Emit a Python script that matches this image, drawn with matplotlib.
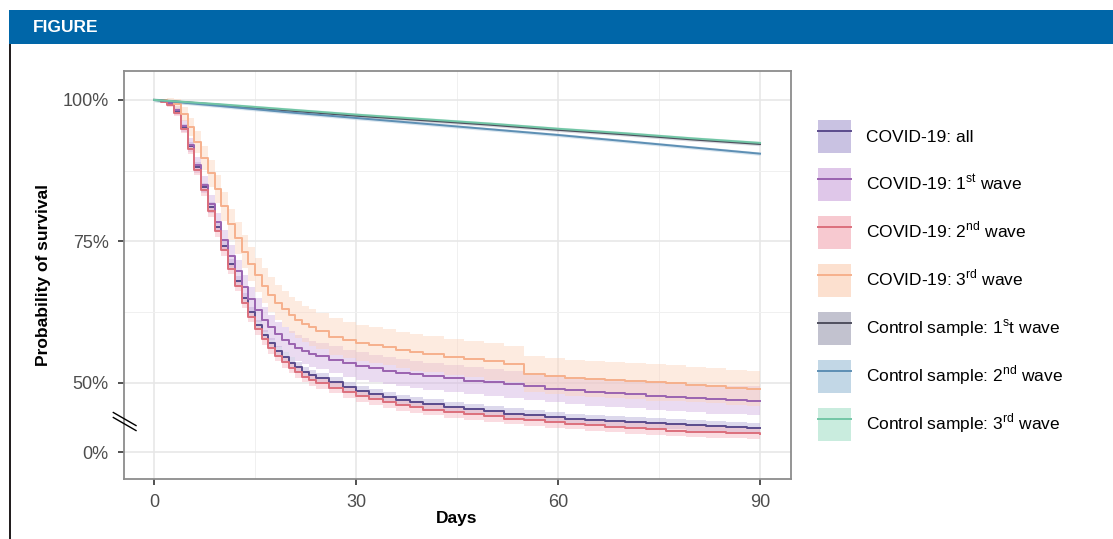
import matplotlib
matplotlib.use("Agg")
import matplotlib.pyplot as plt
from matplotlib.patches import Patch, Rectangle
from matplotlib.lines import Line2D

plt.rcParams['font.family'] = ['Liberation Sans', 'DejaVu Sans']
plt.rcParams['mathtext.fontset'] = 'custom'
plt.rcParams['mathtext.rm'] = 'Liberation Sans'

# Kaplan-Meier estimates (survival, %)
days = [0, 1, 2, 3, 4, 5, 6, 7, 8, 9, 10, 11, 12, 13, 14, 15, 16, 17, 18, 19, 20, 21, 22, 23, 24,
        26, 28, 30, 32, 34, 36, 38, 40,
        43, 46, 49, 52, 55, 58, 61, 64, 67, 70, 73, 76, 79, 82, 85, 88, 90]

covid_all = [100, 99.8, 99.3, 98.0, 95.2, 91.8, 88.2, 84.6, 81.0, 77.6, 74.2, 71.0, 68.0, 65.0,
             62.5, 60.3, 58.5, 57.0, 55.7, 54.6, 53.6, 52.8, 52.0, 51.4, 50.9,
             50.1, 49.3, 48.6, 48.0, 47.5, 47.0, 46.6, 46.2,
             45.8, 45.4, 45.0, 44.6, 44.3, 44.0, 43.7, 43.5, 43.3, 43.1, 42.9, 42.7, 42.5, 42.4,
             42.2, 42.1, 42.0]
covid_w1 = [100, 99.8, 99.4, 98.2, 95.4, 92.0, 88.5, 85.0, 81.6, 78.4, 75.3, 72.4, 69.7, 67.0,
            64.8, 62.9, 61.2, 59.8, 58.6, 57.6, 56.8, 56.2, 55.6, 55.2, 54.8,
            54.1, 53.5, 53.0, 52.6, 52.2, 51.8, 51.5, 51.2,
            50.8, 50.4, 50.1, 49.8, 49.4, 49.0, 48.7, 48.4, 48.2, 48.0, 47.7, 47.5, 47.3, 47.1,
            47.0, 46.9, 46.8]
covid_w2 = [100, 99.7, 99.1, 97.7, 94.8, 91.3, 87.6, 84.0, 80.3, 76.8, 73.4, 70.2, 67.2, 64.2,
            61.7, 59.5, 57.7, 56.1, 54.8, 53.7, 52.7, 51.9, 51.1, 50.5, 50.0,
            49.2, 48.4, 47.7, 47.1, 46.6, 46.1, 45.7, 45.3,
            44.9, 44.5, 44.1, 43.7, 43.4, 43.1, 42.8, 42.5, 42.3, 42.0, 41.8, 41.6, 41.4, 41.3,
            41.2, 41.1, 41.0]
covid_w3 = [100, 100, 99.8, 99.3, 97.5, 95.2, 92.6, 89.8, 87.0, 84.3, 81.2, 78.0, 75.6, 73.2,
            71.0, 69.0, 67.2, 65.6, 64.2, 63.0, 62.0, 61.2, 60.4, 59.8, 59.2,
            58.2, 57.6, 57.1, 56.7, 56.3, 55.8, 55.4, 55.1,
            54.6, 54.2, 53.8, 53.3, 51.6, 51.2, 50.9, 50.7, 50.5, 50.3, 50.1, 50.0, 49.7, 49.5,
            49.2, 49.0, 48.9]

# half-widths of the 95% confidence bands
ci_all = [0, 0.2, 0.3, 0.5, 0.6, 0.7, 0.8, 0.8] + [0.9] * 42
ci_w1 = [0, 0.3, 0.5, 0.8, 1.0, 1.2, 1.4, 1.5, 1.6, 1.7, 1.8, 1.9, 2.0, 2.0, 2.1, 2.1, 2.2, 2.2,
         2.2, 2.2, 2.3, 2.3, 2.3, 2.3, 2.3] + [2.4] * 15 + [2.5] * 10
ci_w2 = [0, 0.2, 0.4, 0.6, 0.7, 0.8, 0.9] + [1.0] * 43
ci_w3 = [0, 0.2, 0.5, 0.9, 1.3, 1.6, 1.9, 2.1, 2.3, 2.5, 2.6, 2.7, 2.8, 2.9, 3.0, 3.0, 3.1, 3.1,
         3.1, 3.2, 3.2, 3.2, 3.2, 3.2, 3.2] + [3.2] * 20 + [3.1] * 5

ctrl_days = [0, 10, 20, 30, 40, 50, 60, 70, 80, 90]
ctrl_w1 = [100, 99.1, 98.1, 97.2, 96.4, 95.6, 94.7, 93.9, 93.0, 92.2]
ctrl_w2 = [100, 98.9, 97.8, 96.8, 95.8, 94.8, 93.8, 92.7, 91.6, 90.5]
ctrl_w3 = [100, 99.2, 98.3, 97.4, 96.6, 95.8, 94.9, 94.1, 93.2, 92.4]

labels = ["COVID-19: all",
          "COVID-19: 1$^{\\mathrm{st}}$ wave",
          "COVID-19: 2$^{\\mathrm{nd}}$ wave",
          "COVID-19: 3$^{\\mathrm{rd}}$ wave",
          "Control sample: 1$^{\\mathrm{s}}$t wave",
          "Control sample: 2$^{\\mathrm{nd}}$ wave",
          "Control sample: 3$^{\\mathrm{rd}}$ wave"]
line_colors = ["#5a4b8c", "#9a63b0", "#dc6f7c", "#f6b08c", "#4f4f5e", "#5d8fb4", "#72c6a6"]
band_colors = ["#b3a9d6", "#d2b0e0", "#f4b3bd", "#fcd3bb", "#a9a9bb", "#a9c6dc", "#b3e4d0"]

fig = plt.figure(figsize=(11.13, 5.39), dpi=100)

# header bar
fig.patches.append(Rectangle((9 / 1113, 1 - 44 / 539), 1 - 9 / 1113, 34 / 539,
                             transform=fig.transFigure, facecolor="#0066a8",
                             edgecolor="none", zorder=0))
fig.patches.append(Rectangle((9 / 1113, 0), 2 / 1113, 1 - 44 / 539,
                             transform=fig.transFigure, facecolor="#231f20",
                             edgecolor="none", zorder=0))
fig.text(33 / 1113, 1 - 28 / 539, "FIGURE", color="white", fontsize=12.5,
         fontweight="bold", va="center", ha="left")

ax = fig.add_axes([124 / 1113, 1 - 479 / 539, 667 / 1113, 408 / 539])

covid = [(covid_all, ci_all), (covid_w1, ci_w1), (covid_w2, ci_w2), (covid_w3, ci_w3)]
for i, (surv, ci) in enumerate(covid):
    lo = [s - c for s, c in zip(surv, ci)]
    hi = [s + c for s, c in zip(surv, ci)]
    ax.fill_between(days, lo, hi, step="post", color=band_colors[i], alpha=0.45,
                    linewidth=0, zorder=2)
for i, (surv, ci) in enumerate(covid):
    ax.plot(days, surv, drawstyle="steps-post", color=line_colors[i], lw=1.4, zorder=3)

controls = [ctrl_w1, ctrl_w2, ctrl_w3]
for j, surv in enumerate(controls):
    k = j + 4
    ax.fill_between(ctrl_days, [s - 0.3 for s in surv], [s + 0.3 for s in surv],
                    color=band_colors[k], alpha=0.45, linewidth=0, zorder=2)
    ax.plot(ctrl_days, surv, color=line_colors[k], lw=1.4, zorder=3)

ax.set_xlim(-4.46, 94.6)
ax.set_ylim(33.04, 105.1)

# axis with a break: "0%" is drawn just below the break
ax.set_xticks([0, 30, 60, 90])
ax.set_xticks([15, 45, 75], minor=True)
ax.set_yticks([37.8, 50, 75, 100])
ax.set_yticklabels(["0%", "50%", "75%", "100%"])
ax.set_yticks([62.5, 87.5], minor=True)
ax.grid(True, which="major", color="#e6e6e6", lw=1.1, zorder=0)
ax.grid(True, which="minor", color="#f0f0f0", lw=0.7, zorder=0)
ax.set_axisbelow(True)
ax.tick_params(which="major", length=4, width=1.2, color="#333333",
               labelsize=13, labelcolor="#4d4d4d", pad=7)
ax.tick_params(which="minor", length=0)
for sp in ax.spines.values():
    sp.set_color("#8c8c8c")
    sp.set_linewidth(1.3)

# break marks on the y axis
for dy in (0, 5):
    ax.plot([-0.016, 0.018], [0.147 - dy / 408 + 0.016, 0.147 - dy / 408 - 0.016],
            transform=ax.transAxes, color="black", lw=1, clip_on=False, zorder=5)

ax.set_xlabel("Days", fontsize=12.5, fontweight="bold")
ax.xaxis.set_label_coords(0.498, -0.078)
ax.set_ylabel("Probability of survival", fontsize=12.5, fontweight="bold")
ax.yaxis.set_label_coords(-0.109, 0.5)

handles = []
for i in range(7):
    handles.append((Patch(facecolor=band_colors[i], alpha=0.7, edgecolor="none"),
                    Line2D([], [], color=line_colors[i], lw=1.4)))
fig.legend(handles, labels, loc="upper left", bbox_to_anchor=(818 / 1113, 1 - 120 / 539),
           frameon=False, fontsize=12.5, handlelength=1.9, handleheight=2.55,
           labelspacing=0.86, handletextpad=0.86, borderpad=0, borderaxespad=0)

fig.savefig("out.png", dpi=100)
